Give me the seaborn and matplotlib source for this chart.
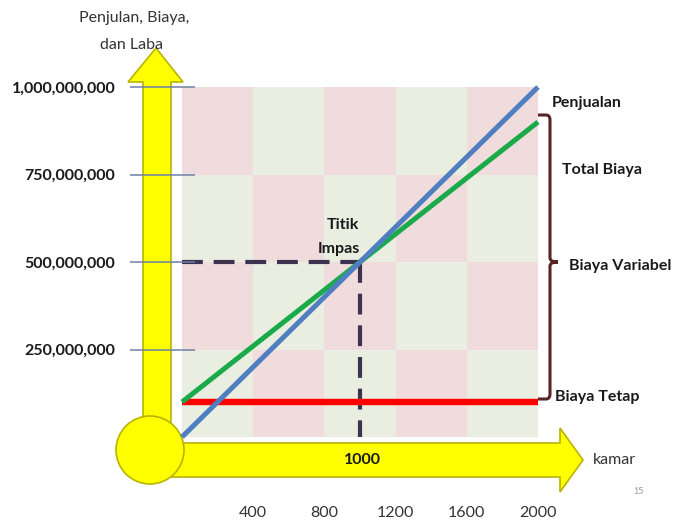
import numpy as np
import pandas as pd
import matplotlib
matplotlib.use("Agg")
import matplotlib.pyplot as plt
import seaborn as sns
from matplotlib.patches import Polygon, Circle, PathPatch
from matplotlib.path import Path
from matplotlib.colors import ListedColormap

# ---- data ----
kamar = [0, 2000]
penjualan = [0, 1_000_000_000]
total_biaya = [100_000_000, 900_000_000]
biaya_tetap = [100_000_000, 100_000_000]
impas_kamar = 1000
impas_nilai = 500_000_000
x_ticks = [400, 800, 1200, 1600, 2000]
x_labels = ["400", "800", "1200", "1600", "2000"]
y_ticks = [250_000_000, 500_000_000, 750_000_000, 1_000_000_000]
y_labels = ["250,000,000", "500,000,000", "750,000,000", "1,000,000,000"]
grid_x = [0, 400, 800, 1200, 1600, 2000]
grid_y = [0, 250_000_000, 500_000_000, 750_000_000, 1_000_000_000]

sns.set_theme(style="white")
plt.rcParams["font.family"] = ["Lato", "DejaVu Sans"]

W, H = 673, 522
fig = plt.figure(figsize=(W / 100, H / 100), dpi=100)
fig.patch.set_facecolor("white")


def fx(px):
    return px / W


def fy(py):
    return 1 - py / H


# decoration layer in pixel units (origin top-left)
bg = fig.add_axes([0, 0, 1, 1], zorder=0)
bg.set_xlim(0, W)
bg.set_ylim(H, 0)
bg.axis("off")

yellow = "#ffff00"
yedge = "#b8b400"
v_arrow = [(143, 452), (143, 82), (128, 82), (156, 48), (183, 82), (171, 82), (171, 452)]
h_arrow = [(150, 443), (560, 443), (560, 428), (583, 460), (560, 492), (560, 477), (150, 477)]
bg.add_patch(Polygon(v_arrow, closed=True, fc=yellow, ec=yedge, lw=1.2))
bg.add_patch(Polygon(h_arrow, closed=True, fc=yellow, ec=yedge, lw=1.2))
bg.add_patch(Circle((150, 450), 34, fc=yellow, ec=yedge, lw=1.2))

# brace grouping the cost labels
brace = Path(
    [(537, 115), (546, 115), (550, 115), (550, 120),
     (550, 258), (550, 262), (558, 262),
     (550, 262), (550, 266), (550, 394),
     (550, 399), (546, 399), (537, 399)],
    [Path.MOVETO, Path.LINETO, Path.CURVE3, Path.CURVE3,
     Path.LINETO, Path.CURVE3, Path.CURVE3,
     Path.CURVE3, Path.CURVE3, Path.LINETO,
     Path.CURVE3, Path.CURVE3, Path.LINETO])
bg.add_patch(PathPatch(brace, fc="none", ec="#5a2424", lw=2.2))

# ---- main chart ----
ax = fig.add_axes([fx(182), fy(437), 356 / W, 350 / H], zorder=1)
ax.patch.set_alpha(0)

pattern = (np.add.outer(np.arange(len(grid_y) - 1), np.arange(len(grid_x) - 1)) % 2)
checker = ListedColormap(["#e9eee0", "#f0dcdc"])
ax.pcolormesh(grid_x, grid_y, pattern, cmap=checker, shading="flat", zorder=0)

df = pd.DataFrame({
    "kamar": kamar * 3,
    "nilai": biaya_tetap + total_biaya + penjualan,
    "seri": ["Biaya Tetap"] * 2 + ["Total Biaya"] * 2 + ["Penjualan"] * 2,
})
styles = {"Biaya Tetap": ("#ff0000", 4.6), "Total Biaya": ("#1aaa4a", 3.6), "Penjualan": ("#4f7fc0", 3.6)}
for seri, (col, lw) in styles.items():
    sns.lineplot(data=df[df["seri"] == seri], x="kamar", y="nilai", color=col,
                 linewidth=lw, ax=ax, legend=False, zorder=3)
for ln in ax.lines:
    ln.set_clip_on(False)
    ln.set_solid_capstyle("butt")

dash_kw = dict(color="#3b3350", lw=3, dashes=(5, 2.6), clip_on=False, zorder=2.5)
ax.plot([0, impas_kamar], [impas_nilai, impas_nilai], **dash_kw)
ax.plot([impas_kamar, impas_kamar], [impas_nilai, 0], **dash_kw)

ax.set_xlim(0, 2000)
ax.set_ylim(0, 1_000_000_000)
for s in ax.spines.values():
    s.set_visible(False)

ax.set_xticks(x_ticks)
ax.set_xticklabels(x_labels, fontsize=11.5, color="#333333")
ax.set_yticks(y_ticks)
ax.set_yticklabels(y_labels, fontsize=11.5, fontweight="bold", color="#1a1a1a")
ax.tick_params(axis="x", length=0, pad=50)
ax.tick_params(axis="y", length=0, pad=48)
ax.set_xlabel("")
ax.set_ylabel("")

# tick guide lines across the vertical arrow
ax.hlines(y_ticks, -0.146, 0.037, transform=ax.get_yaxis_transform(),
          color="#6f80a8", lw=1.1, clip_on=False, zorder=4)

# ---- text ----
fig.text(fx(134), fy(18), "Penjulan, Biaya,", ha="center", va="center", fontsize=11.5, color="#333333")
fig.text(fx(131), fy(45), "dan Laba", ha="center", va="center", fontsize=11.5, color="#333333")
fig.text(fx(593), fy(460), "kamar", ha="left", va="center", fontsize=11.5, color="#333333")
fig.text(fx(638), fy(492), "15", ha="center", va="center", fontsize=6.5, color="#999999")
fig.text(fx(362), fy(460), "1000", ha="center", va="center", fontsize=11.5, fontweight="bold", color="#1a1a1a")
fig.text(fx(343), fy(225), "Titik", ha="center", va="center", fontsize=11.5, fontweight="bold", color="#1a1a1a")
fig.text(fx(339), fy(249), "Impas", ha="center", va="center", fontsize=11.5, fontweight="bold", color="#1a1a1a")

lbl_kw = dict(ha="left", va="center", fontsize=11.5, fontweight="bold", color="#1a1a1a")
fig.text(fx(552), fy(103), "Penjualan", **lbl_kw)
fig.text(fx(562), fy(170), "Total Biaya", **lbl_kw)
fig.text(fx(569), fy(266), "Biaya Variabel", **lbl_kw)
fig.text(fx(555), fy(397), "Biaya Tetap", **lbl_kw)

fig.savefig("out.png", dpi=100, facecolor="white")
